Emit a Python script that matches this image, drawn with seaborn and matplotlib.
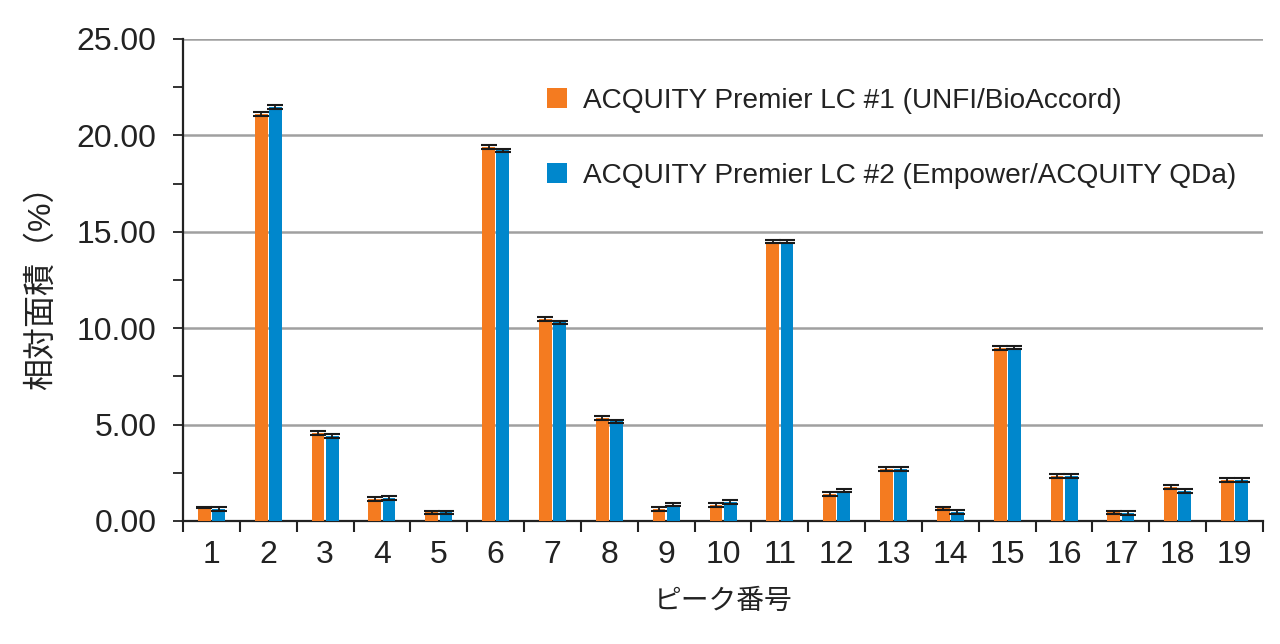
import pandas as pd
import numpy as np
import seaborn as sns
import matplotlib.pyplot as plt
from matplotlib.ticker import MultipleLocator, FixedLocator, NullFormatter, FixedFormatter

# peak numbers and relative areas (%) for the two systems
peaks = [str(i) for i in range(1, 20)]
lc1 = [0.70, 21.10, 4.58, 1.15, 0.45, 19.38, 10.48, 5.35, 0.62, 0.83, 14.48,
       1.40, 2.70, 0.65, 8.98, 2.33, 0.45, 1.78, 2.12]
lc2 = [0.62, 21.48, 4.42, 1.18, 0.45, 19.22, 10.30, 5.18, 0.85, 1.00, 14.48,
       1.57, 2.70, 0.47, 8.98, 2.33, 0.42, 1.55, 2.12]
lc1_err = [0.05, 0.10, 0.11, 0.10, 0.09, 0.10, 0.10, 0.10, 0.10, 0.10, 0.08,
           0.10, 0.09, 0.09, 0.09, 0.10, 0.09, 0.10, 0.10]
lc2_err = [0.10, 0.09, 0.09, 0.10, 0.09, 0.08, 0.08, 0.08, 0.07, 0.10, 0.08,
           0.09, 0.09, 0.09, 0.08, 0.10, 0.11, 0.09, 0.09]
series = ["ACQUITY Premier LC #1 (UNFI/BioAccord)",
          "ACQUITY Premier LC #2 (Empower/ACQUITY QDa)"]
colors = ["#F47B20", "#0087CC"]

df = pd.DataFrame({
    "peak": peaks * 2,
    "area": lc1 + lc2,
    "system": [series[0]] * len(peaks) + [series[1]] * len(peaks),
})

sns.set_style("white")
plt.rcParams["font.family"] = ["Liberation Sans", "Noto Sans CJK JP", "DejaVu Sans"]

fig = plt.figure(figsize=(12.8, 6.44), dpi=100)
ax = fig.add_axes([183/1280, 123/644, (1263-183)/1280, (521-39)/644])

sns.barplot(data=df, x="peak", y="area", hue="system", palette=colors,
            saturation=1, width=0.50, gap=0.1, linewidth=0,
            errorbar=None, ax=ax, zorder=3)

# error bars on top of each bar
for cont, err in zip(ax.containers, [lc1_err, lc2_err]):
    xs = [p.get_x() + p.get_width() / 2 for p in cont.patches]
    hs = [p.get_height() for p in cont.patches]
    ax.errorbar(xs, hs, yerr=err, fmt="none", ecolor="#1a1a1a",
                elinewidth=1.3, capsize=5.5, capthick=1.5, zorder=4)

ax.set_ylim(0, 25)
ax.set_xlim(-0.5, 18.5)
ax.set_yticks(np.arange(0, 26, 5))
ax.set_yticklabels([f"{v:.2f}" for v in np.arange(0, 26, 5)])
ax.yaxis.set_minor_locator(MultipleLocator(2.5))
ax.grid(axis="y", color="#a0a0a0", linewidth=1.8, zorder=0)
ax.grid(axis="x", visible=False)

# x ticks at category boundaries, labels at centres
ax.xaxis.set_major_locator(FixedLocator(np.arange(-0.5, 19, 1)))
ax.xaxis.set_major_formatter(NullFormatter())
ax.xaxis.set_minor_locator(FixedLocator(np.arange(0, 19)))
ax.xaxis.set_minor_formatter(FixedFormatter(peaks))
ax.tick_params(axis="x", which="major", direction="out", length=8, width=1.5,
               color="#222222", bottom=True)
ax.tick_params(axis="x", which="minor", length=0, pad=14, labelsize=23,
               labelcolor="#222222")
ax.tick_params(axis="y", which="both", direction="out", length=7, width=1.3,
               color="#222222", left=True, pad=12, labelsize=23,
               labelcolor="#222222")

for s in ["top", "right"]:
    ax.spines[s].set_visible(False)
for s in ["left", "bottom"]:
    ax.spines[s].set_color("#222222")
    ax.spines[s].set_linewidth(1.6)

ax.set_xlabel("ピーク番号", fontsize=20, color="#222222", labelpad=13)
ax.set_ylabel("相対面積（%）", fontsize=23, color="#222222", labelpad=14)

ax.legend(loc="upper left", bbox_to_anchor=(547/1280, 1 - 88/644),
          bbox_transform=fig.transFigure, frameon=False, fontsize=20.2,
          handlelength=0.7, handleheight=0.7, handletextpad=0.6,
          labelspacing=1.75, borderpad=0, borderaxespad=0,
          labelcolor="#222222")

fig.savefig("out.png", dpi=100)
